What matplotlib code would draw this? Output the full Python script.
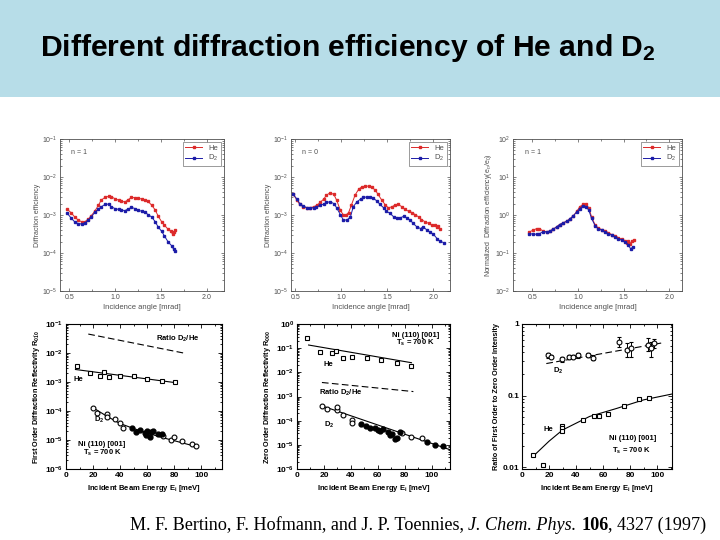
import numpy as np
import matplotlib
matplotlib.use('Agg')
import matplotlib.pyplot as plt
from matplotlib.ticker import FuncFormatter, LogLocator, MultipleLocator, NullFormatter
from matplotlib.patches import Rectangle

plt.rcParams['font.family'] = ['Liberation Sans', 'DejaVu Sans']
plt.rcParams['mathtext.fontset'] = 'custom'
plt.rcParams['mathtext.rm'] = 'Liberation Sans'
plt.rcParams['mathtext.it'] = 'Liberation Sans:italic'
plt.rcParams['mathtext.bf'] = 'Liberation Sans:bold'

# ---- top row: efficiency vs incidence angle ----
# n = 1
he1_x = [0.48, 0.52, 0.56, 0.60, 0.64, 0.67, 0.71, 0.74, 0.78, 0.82, 0.85, 0.89, 0.93, 0.96, 1.00, 1.04, 1.07,
         1.11, 1.14, 1.18, 1.22, 1.25, 1.29, 1.33, 1.36, 1.40, 1.44, 1.47, 1.51, 1.54, 1.58, 1.61, 1.63, 1.64, 1.66]
he1_y = [1.40e-3, 1.16e-3, 8.9e-4, 7.3e-4, 6.6e-4, 6.6e-4, 7.8e-4, 9.5e-4, 1.26e-3, 1.82e-3, 2.46e-3, 2.9e-3,
         3.1e-3, 3.0e-3, 2.7e-3, 2.45e-3, 2.3e-3, 2.2e-3, 2.5e-3, 2.9e-3, 2.85e-3, 2.75e-3, 2.65e-3, 2.5e-3,
         2.3e-3, 1.82e-3, 1.35e-3, 9.5e-4, 6.6e-4, 5.4e-4, 4.2e-4, 3.7e-4, 3.1e-4, 3.6e-4, 4.0e-4]
d21_x = [0.48, 0.52, 0.56, 0.60, 0.64, 0.67, 0.71, 0.74, 0.78, 0.82, 0.85, 0.89, 0.93, 0.96, 1.00, 1.04, 1.07,
         1.11, 1.14, 1.18, 1.22, 1.25, 1.29, 1.33, 1.36, 1.40, 1.44, 1.47, 1.51, 1.54, 1.58, 1.62, 1.64, 1.66]
d21_y = [1.10e-3, 8.4e-4, 6.6e-4, 5.9e-4, 5.8e-4, 6.2e-4, 7.3e-4, 8.9e-4, 1.17e-3, 1.43e-3, 1.64e-3, 1.89e-3,
         1.94e-3, 1.64e-3, 1.48e-3, 1.40e-3, 1.34e-3, 1.31e-3, 1.43e-3, 1.58e-3, 1.48e-3, 1.34e-3, 1.26e-3,
         1.17e-3, 1.03e-3, 8.9e-4, 6.6e-4, 4.9e-4, 3.7e-4, 2.8e-4, 1.96e-4, 1.54e-4, 1.26e-4, 1.12e-4]

# n = 0
he0_x = [0.48, 0.52, 0.55, 0.59, 0.63, 0.66, 0.70, 0.74, 0.77, 0.81, 0.84, 0.88, 0.92, 0.95, 0.99, 1.02, 1.05,
         1.08, 1.11, 1.15, 1.19, 1.22, 1.26, 1.30, 1.33, 1.37, 1.40, 1.44, 1.48, 1.51, 1.55, 1.58, 1.62, 1.66,
         1.69, 1.73, 1.77, 1.80, 1.84, 1.87, 1.91, 1.95, 1.98, 2.02, 2.04, 2.05, 2.07]
he0_y = [3.47e-3, 2.46e-3, 1.89e-3, 1.64e-3, 1.55e-3, 1.55e-3, 1.64e-3, 1.82e-3, 2.14e-3, 2.62e-3, 3.33e-3,
         3.85e-3, 3.47e-3, 2.46e-3, 1.34e-3, 1.03e-3, 9.9e-4, 1.16e-3, 1.82e-3, 3.33e-3, 4.8e-3, 5.42e-3,
         5.75e-3, 5.75e-3, 5.42e-3, 4.5e-3, 3.47e-3, 2.46e-3, 1.82e-3, 1.55e-3, 1.64e-3, 1.82e-3, 1.89e-3,
         1.64e-3, 1.40e-3, 1.26e-3, 1.16e-3, 1.03e-3, 8.9e-4, 7.6e-4, 6.6e-4, 6.0e-4, 5.4e-4, 5.4e-4, 4.9e-4,
         5.2e-4, 4.2e-4]
d20_x = [0.48, 0.52, 0.55, 0.59, 0.63, 0.66, 0.70, 0.73, 0.77, 0.81, 0.84, 0.88, 0.92, 0.95, 0.99, 1.02, 1.06,
         1.10, 1.13, 1.17, 1.21, 1.24, 1.28, 1.31, 1.35, 1.39, 1.42, 1.46, 1.49, 1.53, 1.57, 1.60, 1.64, 1.68,
         1.71, 1.75, 1.78, 1.82, 1.86, 1.89, 1.93, 1.96, 2.00, 2.04, 2.07, 2.11]
d20_y = [3.47e-3, 2.62e-3, 2.0e-3, 1.71e-3, 1.55e-3, 1.55e-3, 1.55e-3, 1.61e-3, 1.82e-3, 1.93e-3, 2.14e-3,
         2.23e-3, 2.0e-3, 1.55e-3, 1.03e-3, 7.6e-4, 7.3e-4, 8.9e-4, 1.64e-3, 2.23e-3, 2.62e-3, 2.9e-3, 3.0e-3,
         2.95e-3, 2.72e-3, 2.32e-3, 1.89e-3, 1.55e-3, 1.26e-3, 1.10e-3, 8.9e-4, 8.1e-4, 8.4e-4, 9.3e-4, 8.4e-4,
         7.3e-4, 6.0e-4, 4.9e-4, 4.4e-4, 4.9e-4, 4.0e-4, 3.6e-4, 3.1e-4, 2.4e-4, 2.05e-4, 1.88e-4]

# normalized n = 1
hen_x = [0.47, 0.51, 0.55, 0.58, 0.62, 0.66, 0.69, 0.73, 0.77, 0.80, 0.84, 0.88, 0.91, 0.95, 0.99, 1.02, 1.06,
         1.09, 1.12, 1.15, 1.19, 1.22, 1.26, 1.30, 1.33, 1.37, 1.41, 1.44, 1.48, 1.52, 1.54, 1.55, 1.57, 1.59, 1.61]
hen_y = [0.36, 0.398, 0.44, 0.44, 0.375, 0.36, 0.375, 0.423, 0.49, 0.56, 0.621, 0.688, 0.777, 0.95, 1.26, 1.64,
         1.93, 1.89, 1.55, 0.895, 0.54, 0.46, 0.414, 0.375, 0.346, 0.306, 0.283, 0.255, 0.231, 0.209, 0.188,
         0.204, 0.177, 0.204, 0.217]
d2n_x = [0.47, 0.51, 0.55, 0.58, 0.62, 0.66, 0.69, 0.73, 0.77, 0.80, 0.84, 0.88, 0.91, 0.95, 0.99, 1.02, 1.06,
         1.09, 1.12, 1.15, 1.19, 1.22, 1.26, 1.30, 1.33, 1.37, 1.41, 1.44, 1.48, 1.52, 1.55, 1.58, 1.60]
d2n_y = [0.325, 0.313, 0.313, 0.325, 0.36, 0.36, 0.375, 0.423, 0.49, 0.56, 0.621, 0.688, 0.777, 0.95, 1.21, 1.48,
         1.75, 1.64, 1.34, 0.81, 0.518, 0.44, 0.398, 0.36, 0.325, 0.295, 0.266, 0.24, 0.217, 0.196, 0.167,
         0.126, 0.145]

# ---- bottom row: vs incident beam energy ----
# first order reflectivity
r1_he_x = [8, 18, 25, 28, 32, 40, 50, 60, 71, 81]
r1_he_y = [3.5e-3, 2.0e-3, 1.65e-3, 2.3e-3, 1.45e-3, 1.55e-3, 1.6e-3, 1.3e-3, 1.1e-3, 9.8e-4]
r1_he_fit_x = [7, 81]
r1_he_fit_y = [2.7e-3, 9.5e-4]
r1_ratio_x = [16.5, 87]
r1_ratio_y = [4.5e-2, 1.0e-2]
r1_d2_open_x = [20, 23, 30, 30, 36, 40, 42, 72, 78, 80, 86, 93, 96]
r1_d2_open_y = [1.23e-4, 8.7e-5, 7.6e-5, 6.2e-5, 5.1e-5, 3.9e-5, 2.6e-5, 1.35e-5, 1.0e-5, 1.23e-5, 8.9e-6,
                7.2e-6, 6.0e-6]
r1_d2_full_x = [48.6, 51.9, 54.8, 58.5, 59.3, 60.2, 62.2, 62.7, 64.7, 68.4, 70.9]
r1_d2_full_y = [2.5e-5, 1.9e-5, 2.3e-5, 1.75e-5, 1.45e-5, 2.0e-5, 1.25e-5, 1.9e-5, 2.0e-5, 1.6e-5, 1.55e-5]
r1_d2_fit_x = [20, 30, 40, 50, 60, 70, 80, 96]
r1_d2_fit_y = [1.3e-4, 6.7e-5, 3.7e-5, 2.5e-5, 1.75e-5, 1.26e-5, 9.5e-6, 6.0e-6]

# zero order reflectivity
r0_he_x = [7.4, 17.3, 25.9, 29.1, 33.8, 41.2, 51.9, 62.5, 74.1, 84.7]
r0_he_y = [0.257, 0.072, 0.066, 0.079, 0.038, 0.042, 0.041, 0.033, 0.0254, 0.0186]
r0_he_fit_x = [8.6, 85]
r0_he_fit_y = [0.135, 0.025]
r0_ratio_x = [18.5, 86.4]
r0_ratio_y = [3.8e-3, 1.6e-3]
r0_d2_open_x = [18.5, 22.2, 29.6, 29.6, 34, 40.7, 41.2, 77.8, 85, 93]
r0_d2_open_y = [3.9e-4, 3.0e-4, 2.8e-4, 3.6e-4, 1.76e-4, 1.1e-4, 7.9e-5, 3.1e-5, 2.1e-5, 2.0e-5]
r0_d2_full_x = [47.7, 51, 54.3, 58, 60.5, 61.7, 64.2, 67.9, 69, 70.4, 72.8, 74, 76.5, 96.3, 102.5, 108.6]
r0_d2_full_y = [7.5e-5, 6.3e-5, 4.9e-5, 4.9e-5, 4.2e-5, 3.6e-5, 4.5e-5, 3.3e-5, 2.6e-5, 2.9e-5, 1.74e-5,
                2.0e-5, 3.3e-5, 1.26e-5, 1.0e-5, 8.7e-6]
r0_d2_fit_x = [18.5, 113.6]
r0_d2_fit_y = [4.1e-4, 6.3e-6]

# ratio first / zero order
q_d2_x = [19.1, 21.6, 29.7, 35.1, 37.5, 41.7, 48.6, 52.3, 72, 78, 80.5, 93.5, 95.2, 97.7]
q_d2_y = [0.369, 0.35, 0.32, 0.35, 0.35, 0.369, 0.369, 0.339, 0.555, 0.434, 0.468, 0.509, 0.458, 0.538]
q_d2_err_lo = [0.03, 0.02, 0.03, 0.02, 0.02, 0.03, 0.02, 0.03, 0.082, 0.084, 0.12, 0.084, 0.11, 0.08]
q_d2_err_hi = [0.03, 0.02, 0.03, 0.02, 0.02, 0.03, 0.02, 0.03, 0.097, 0.10, 0.10, 0.12, 0.11, 0.07]
q_d2_fit_x = [18, 105]
q_d2_fit_y = [0.28, 0.55]
q_he_x = [8.1, 15.5, 29.4, 29.4, 29.4, 44.9, 53.5, 57.2, 63.3, 75.6, 86.6, 94]
q_he_y = [0.0146, 0.0108, 0.0377, 0.035, 0.0315, 0.0448, 0.052, 0.052, 0.0555, 0.0718, 0.089, 0.0927]
q_he_fit_x = [8, 20, 30, 50, 70, 90, 111]
q_he_fit_y = [0.014, 0.023, 0.033, 0.051, 0.066, 0.087, 0.105]

RED = '#dc2a2a'
BLUE = '#1c1ca8'
GREY = '#505050'
W, H = 720, 540


def px_axes(fig, left, top, right, bottom):
    return fig.add_axes([left / W, 1 - bottom / H, (right - left) / W, (bottom - top) / H])


def angle_panel(ax, he_x, he_y, d2_x, d2_y, xlim, ylim, ylabel, tag):
    ax.semilogy(he_x, he_y, '-s', color=RED, ms=2.0, lw=0.7, label='He')
    ax.semilogy(d2_x, d2_y, '-s', color=BLUE, ms=2.0, lw=0.7, label='D$_2$')
    ax.set_xlim(xlim)
    ax.set_ylim(ylim)
    ax.set_xticks([0.5, 1.0, 1.5, 2.0])
    ax.xaxis.set_minor_locator(MultipleLocator(0.25))
    ax.xaxis.set_major_formatter(FuncFormatter(lambda v, p: f'{v:.1f}'))
    ax.yaxis.set_major_locator(LogLocator(base=10, numticks=10))
    ax.yaxis.set_minor_locator(LogLocator(base=10, subs=np.arange(2, 10), numticks=20))
    ax.yaxis.set_minor_formatter(NullFormatter())
    ax.tick_params(which='both', direction='in', top=True, right=True, colors=GREY,
                   labelsize=5, pad=2, width=0.5)
    ax.tick_params(which='major', length=2.5)
    ax.tick_params(which='minor', length=1.3)
    for s in ax.spines.values():
        s.set_color(GREY)
        s.set_linewidth(0.6)
    ax.set_xlabel('Incidence angle [mrad]', fontsize=5.5, color=GREY, labelpad=2)
    ax.set_ylabel(ylabel, fontsize=5, color=GREY, labelpad=1)
    ax.text(0.07, 0.9, tag, transform=ax.transAxes, fontsize=5, color=GREY)
    leg = ax.legend(loc='upper right', fontsize=5.5, handlelength=2.2, borderpad=0.3,
                    labelspacing=0.2, fancybox=False, borderaxespad=0.4, labelcolor=GREY)
    leg.get_frame().set_linewidth(0.5)
    leg.get_frame().set_edgecolor(GREY)


def decade_fmt(v, p):
    return r'$\mathbf{10^{%d}}$' % int(round(np.log10(v)))


def energy_panel(ax, xlim, ylim, ylabel, fmt=None):
    ax.set_yscale('log')
    ax.set_xlim(xlim)
    ax.set_ylim(ylim)
    ax.xaxis.set_major_locator(MultipleLocator(20))
    ax.xaxis.set_minor_locator(MultipleLocator(10))
    ax.yaxis.set_major_locator(LogLocator(base=10, numticks=10))
    ax.yaxis.set_minor_locator(LogLocator(base=10, subs=np.arange(2, 10), numticks=20))
    ax.yaxis.set_minor_formatter(NullFormatter())
    ax.yaxis.set_major_formatter(FuncFormatter(fmt if fmt else decade_fmt))
    ax.tick_params(which='both', direction='in', top=True, right=True, labelsize=6, pad=2, width=0.6)
    ax.tick_params(which='major', length=3)
    ax.tick_params(which='minor', length=1.5)
    for lab in ax.get_xticklabels():
        lab.set_fontweight('bold')
    for lab in ax.get_yticklabels():
        lab.set_fontweight('bold')
    for s in ax.spines.values():
        s.set_linewidth(0.8)
    ax.set_xlabel(r'Incident Beam Energy E$_\mathbf{i}$ [meV]', fontsize=5.5, fontweight='bold', labelpad=3)
    ax.set_ylabel(ylabel, fontsize=5.2, fontweight='bold', labelpad=2)


def note(ax, x, y, s):
    ax.text(x, y, s, transform=ax.transAxes, fontsize=5.5, fontweight='bold', va='center')


open_sq = dict(marker='s', mfc='white', mec='black', ms=3.3, mew=0.8, ls='none')
open_ci = dict(marker='o', mfc='white', mec='black', ms=3.5, mew=0.8, ls='none')
full_ci = dict(marker='o', mfc='black', mec='black', ms=3.5, ls='none')

fig = plt.figure(figsize=(7.2, 5.4), dpi=100)

# title bar
fig.patches.append(Rectangle((0, 1 - 97 / H), 1, 97 / H, transform=fig.transFigure,
                             facecolor='#b7dde8', edgecolor='none', zorder=0))
fig.text(40 / W, 1 - 48 / H, r'Different diffraction efficiency of He and D$_\mathbf{2}$',
         fontsize=21.7, fontweight='bold', va='center', ha='left')

# top row
ax1 = px_axes(fig, 60, 139, 224, 291)
angle_panel(ax1, he1_x, he1_y, d21_x, d21_y, (0.4, 2.19), (1e-5, 1e-1), 'Diffraction efficiency', 'n = 1')
ax2 = px_axes(fig, 291, 139, 450, 291)
angle_panel(ax2, he0_x, he0_y, d20_x, d20_y, (0.455, 2.18), (1e-5, 1e-1), 'Diffraction efficiency', 'n = 0')
ax3 = px_axes(fig, 513, 139, 682, 291)
angle_panel(ax3, hen_x, hen_y, d2n_x, d2n_y, (0.29, 2.14), (1e-2, 1e2),
            'Normalized  Diffraction efficiency(e$_n$/e$_0$)', 'n = 1')

# bottom row
ax4 = px_axes(fig, 66, 324, 222, 469)
energy_panel(ax4, (0, 115.5), (1e-6, 1e-1), r'First Order Diffraction Reflectivity R$_{\mathbf{0\bar{1}0}}$')
ax4.plot(r1_ratio_x, r1_ratio_y, color='black', lw=0.8, ls=(0, (6, 3)))
ax4.plot(r1_he_fit_x, r1_he_fit_y, color='black', lw=0.8)
ax4.plot(r1_he_x, r1_he_y, **open_sq)
ax4.plot(r1_d2_fit_x, r1_d2_fit_y, color='black', lw=0.8)
ax4.plot(r1_d2_open_x, r1_d2_open_y, **open_ci)
ax4.plot(r1_d2_full_x, r1_d2_full_y, **full_ci)
note(ax4, 0.58, 0.894, r'Ratio D$_\mathbf{2}$/He')
note(ax4, 0.045, 0.615, 'He')
note(ax4, 0.18, 0.34, r'D$_\mathbf{2}$')
note(ax4, 0.08, 0.167, 'Ni (110) [001]')
note(ax4, 0.11, 0.11, r'T$_\mathbf{s}$ = 700 K')

ax5 = px_axes(fig, 297, 324, 450, 469)
energy_panel(ax5, (0, 113.6), (1e-6, 1e0), r'Zero Order Diffraction Reflectivity R$_{\mathbf{000}}$')
ax5.plot(r0_he_fit_x, r0_he_fit_y, color='black', lw=0.8)
ax5.plot(r0_he_x, r0_he_y, **open_sq)
ax5.plot(r0_ratio_x, r0_ratio_y, color='black', lw=0.8, ls=(0, (6, 3)))
ax5.plot(r0_d2_fit_x, r0_d2_fit_y, color='black', lw=0.8)
ax5.plot(r0_d2_open_x, r0_d2_open_y, **open_ci)
ax5.plot(r0_d2_full_x, r0_d2_full_y, **full_ci)
note(ax5, 0.62, 0.924, 'Ni (110) [001]')
note(ax5, 0.646, 0.867, r'T$_\mathbf{s}$ = 700 K')
note(ax5, 0.174, 0.718, 'He')
note(ax5, 0.141, 0.523, r'Ratio D$_\mathbf{2}$/He')
note(ax5, 0.174, 0.305, r'D$_\mathbf{2}$')

ax6 = px_axes(fig, 522, 324, 672, 469)
energy_panel(ax6, (0, 111), (0.0094, 1), 'Ratio of First Order to Zero Order Intensity',
             fmt=lambda v, p: {1.0: '1', 0.1: '0.1', 0.01: '0.01'}.get(round(v, 4), ''))
ax6.plot(q_d2_fit_x, q_d2_fit_y, color='black', lw=0.8, ls=(0, (6, 3)))
ax6.errorbar(q_d2_x, q_d2_y, yerr=[q_d2_err_lo, q_d2_err_hi], fmt='o', mfc='white', mec='black',
             ecolor='black', ms=3.5, mew=0.8, elinewidth=0.7, capsize=1.5, capthick=0.7)
ax6.plot(q_he_fit_x, q_he_fit_y, color='black', lw=0.8)
ax6.plot(q_he_x, q_he_y, **open_sq)
note(ax6, 0.207, 0.679, r'D$_\mathbf{2}$')
note(ax6, 0.144, 0.275, 'He')
note(ax6, 0.578, 0.213, 'Ni (110) [001]')
note(ax6, 0.60, 0.128, r'T$_\mathbf{s}$ = 700 K')
for lab in ax6.get_yticklabels():
    lab.set_fontweight('bold')

# citation line, pieces in different styles
renderer = fig.canvas.get_renderer()
pieces = [('M. F. Bertino, F. Hofmann, and J. P. Toennies, ', 'normal', 'normal'),
          ('J. Chem. Phys.', 'italic', 'normal'),
          (' ', 'normal', 'normal'),
          ('106', 'normal', 'bold'),
          (', 4327 (1997)', 'normal', 'normal')]
x = 130 / W
for txt, style, weight in pieces:
    t = fig.text(x, 1 - 530 / H, txt, fontsize=13.1, family='Liberation Serif', style=style,
                 weight=weight, va='baseline', ha='left')
    bb = t.get_window_extent(renderer)
    x += bb.width / fig.bbox.width

fig.savefig('out.png', dpi=100)
